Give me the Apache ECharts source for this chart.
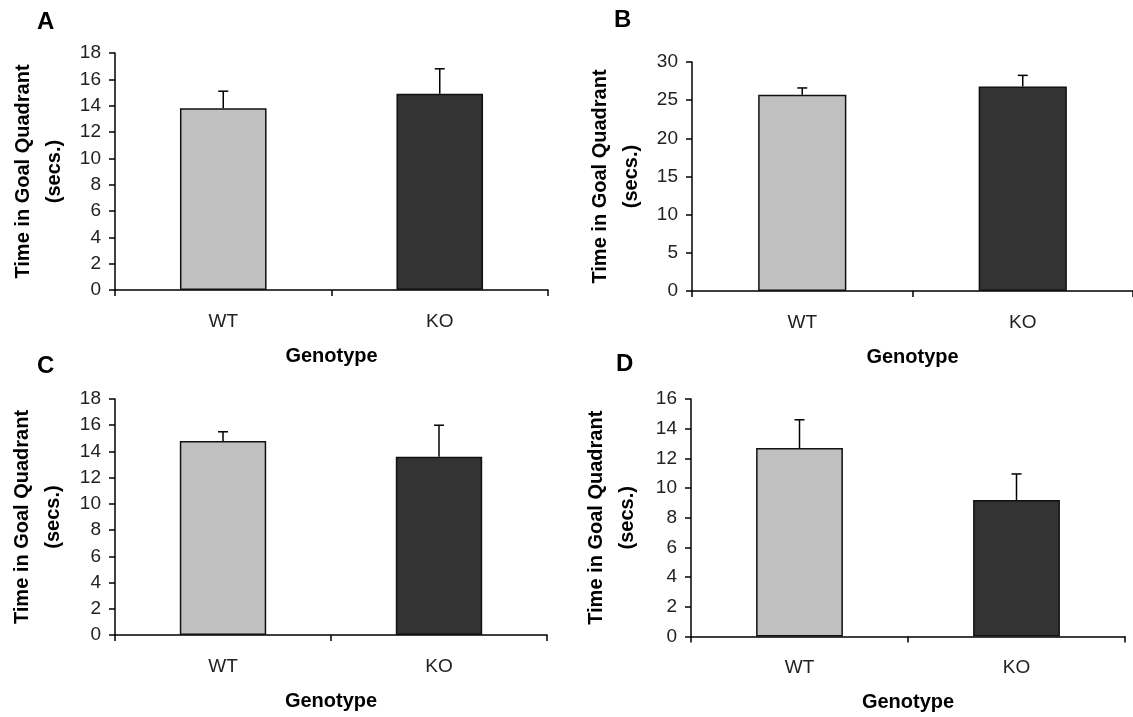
<!DOCTYPE html>
<html>
<head>
<meta charset="utf-8">
<script src="https://cdn.jsdelivr.net/npm/echarts@6/dist/echarts.min.js"></script>
<style>
html,body{margin:0;padding:0;background:#fff;}
#chart{width:1133px;height:717px;}
</style>
</head>
<body>
<div id="chart"></div>
<script>
const categories = ['WT', 'KO'];
const panelLetters = ['A', 'B', 'C', 'D'];
const meanA = [13.8, 14.9];
const errA = [1.3, 1.9];
const meanB = [25.7, 26.8];
const errB = [0.9, 1.45];
const meanC = [14.8, 13.6];
const errC = [0.7, 2.4];
const meanD = [12.7, 9.2];
const errD = [1.9, 1.75];
const yMaxes = [18, 30, 18, 16];
const yIntervals = [2, 5, 2, 2];
const yTitle = 'Time in Goal Quadrant\n(secs.)';
const xTitle = 'Genotype';

const means = [meanA, meanB, meanC, meanD];
const errs = [errA, errB, errC, errD];
const barColors = ['#c0c0c0', '#333333'];

const grids = [
  {left: 115, top: 53, width: 433, height: 237},
  {left: 692, top: 62, width: 445, height: 229},
  {left: 115, top: 399, width: 432, height: 236},
  {left: 691, top: 399, width: 434, height: 237.5}
];
const letterPos = [[37, 10], [614, 8], [37, 354], [616, 352]];
const yNameGaps = [45, 45, 46, 48];

const chart = echarts.init(document.getElementById('chart'));

const xAxes = grids.map((g, i) => ({
  type: 'category',
  gridIndex: i,
  data: categories,
  boundaryGap: true,
  axisLine: {lineStyle: {color: '#000', width: 1.5}},
  axisTick: {show: true, length: 6, lineStyle: {color: '#000', width: 1.5}},
  axisLabel: {color: '#222', fontSize: 19, fontFamily: 'Liberation Sans, Arial', margin: 22},
  name: xTitle,
  nameLocation: 'middle',
  nameGap: 56,
  nameTextStyle: {color: '#000', fontSize: 20, fontWeight: 'bold', fontFamily: 'Liberation Sans, Arial'}
}));

const yAxes = grids.map((g, i) => ({
  type: 'value',
  gridIndex: i,
  min: 0,
  max: yMaxes[i],
  interval: yIntervals[i],
  splitLine: {show: false},
  axisLine: {show: true, lineStyle: {color: '#000', width: 1.5}},
  axisTick: {show: true, length: 6, lineStyle: {color: '#000', width: 1.5}},
  axisLabel: {color: '#222', fontSize: 19, fontFamily: 'Liberation Sans, Arial', margin: 14},
  name: yTitle,
  nameLocation: 'middle',
  nameRotate: 90,
  nameGap: yNameGaps[i],
  nameTextStyle: {color: '#000', fontSize: 20, fontWeight: 'bold', fontFamily: 'Liberation Sans, Arial', lineHeight: 31, align: 'center'}
}));

const series = [];
means.forEach((m, i) => {
  series.push({
    type: 'bar',
    xAxisIndex: i,
    yAxisIndex: i,
    barWidth: '40%',
    data: m.map((v, k) => ({value: v, itemStyle: {color: barColors[k], borderColor: '#111', borderWidth: 1.5}})),
    silent: true
  });
  series.push({
    type: 'custom',
    xAxisIndex: i,
    yAxisIndex: i,
    z: 5,
    encode: {x: 0, y: 1},
    data: m.map((v, k) => [k, v, errs[i][k]]),
    renderItem: function (params, api) {
      const x = api.value(0), y = api.value(1), e = api.value(2);
      const p0 = api.coord([x, y]);
      const p1 = api.coord([x, y + e]);
      const st = {stroke: '#000', lineWidth: 1.5};
      return {
        type: 'group',
        children: [
          {type: 'line', shape: {x1: p0[0], y1: p0[1], x2: p1[0], y2: p1[1]}, style: st},
          {type: 'line', shape: {x1: p1[0] - 5, y1: p1[1], x2: p1[0] + 5, y2: p1[1]}, style: st}
        ]
      };
    }
  });
});

const graphic = panelLetters.map((t, i) => ({
  type: 'text',
  left: letterPos[i][0],
  top: letterPos[i][1],
  style: {text: t, fill: '#000', font: 'bold 24px "Liberation Sans", Arial'}
}));

chart.setOption({
  animation: false,
  backgroundColor: '#fff',
  grid: grids,
  xAxis: xAxes,
  yAxis: yAxes,
  series: series,
  graphic: graphic
});
</script>
</body>
</html>
